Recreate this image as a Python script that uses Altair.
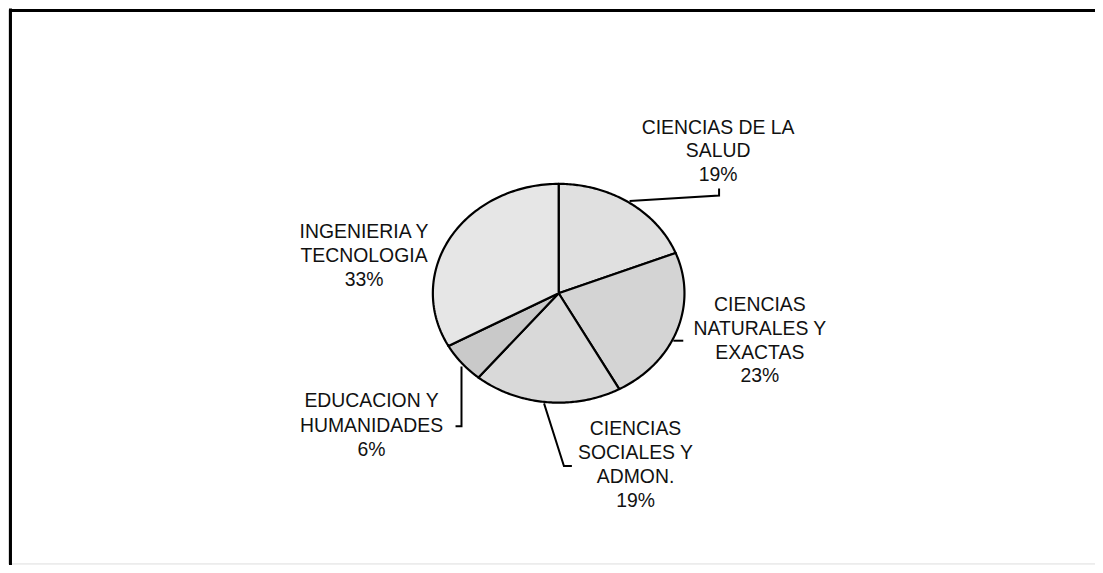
import altair as alt
import pandas as pd

# ---- data ----
categories = [
    "CIENCIAS DE LA SALUD",
    "CIENCIAS NATURALES Y EXACTAS",
    "CIENCIAS SOCIALES Y ADMON.",
    "EDUCACION Y HUMANIDADES",
    "INGENIERIA Y TECNOLOGIA",
]
values = [19, 23, 19, 6, 33]
label_lines = [
    ["CIENCIAS DE LA", "SALUD"],
    ["CIENCIAS", "NATURALES Y", "EXACTAS"],
    ["CIENCIAS", "SOCIALES Y", "ADMON."],
    ["EDUCACION Y", "HUMANIDADES"],
    ["INGENIERIA Y", "TECNOLOGIA"],
]

# ---- layout / style (view pixels; page = view + 8) ----
W, H = 1093, 557
CX, CY = 553.7, 285.3      # pie centre
RX, RY = 126.5, 110.0      # elliptical pie radii
N = 90                      # points along each slice arc
fills = ["#e0e0e0", "#d4d4d4", "#d9d9d9", "#c9c9c9", "#e6e6e6"]
FONT = "Liberation Sans"
FS = 19.5

# label anchor: (centre x, first line centre y, line spacing) in page px
label_pos = [
    (722, 126, 23.5),
    (764, 304, 24),
    (639, 429, 24),
    (373.5, 401, 24.5),
    (366, 231, 24),
]
# leader polylines in page px
leaders = [
    [(633, 200.5), (723, 195), (723, 188)],
    [(677, 341), (687, 341)],
    [(547, 404), (567, 467), (575, 467)],
    [(464, 367), (464, 427), (458, 427)],
]

# ---- pie wedges (elliptical, via library transforms + scales) ----
pie_df = pd.DataFrame({"category": categories, "value": values, "idx": list(range(len(values)))})
pie = (
    alt.Chart(pie_df)
    .transform_window(cum="sum(value)", sort=[alt.SortField("idx")], frame=[None, 0])
    .transform_joinaggregate(total="sum(value)")
    .transform_calculate(
        start="(datum.cum - datum.value) / datum.total",
        end="datum.cum / datum.total",
        steps=f"sequence(0, {N + 2})",
    )
    .transform_flatten(["steps"], as_=["k"])
    .transform_calculate(
        frac=f"datum.start + (datum.end - datum.start) * clamp(datum.k - 1, 0, {N - 1}) / {N - 1}",
        is_c=f"datum.k == 0 || datum.k == {N + 1}",
    )
    .transform_calculate(
        px="datum.is_c ? 0 : sin(2 * PI * datum.frac)",
        py="datum.is_c ? 0 : cos(2 * PI * datum.frac)",
    )
    .mark_line(filled=True, stroke="black", strokeWidth=2.2, interpolate="linear", strokeJoin="round")
    .encode(
        x=alt.X("px:Q", scale=alt.Scale(domain=[-1, 1], range=[CX - RX, CX + RX], nice=False, zero=False), axis=None),
        y=alt.Y("py:Q", scale=alt.Scale(domain=[-1, 1], range=[CY + RY, CY - RY], nice=False, zero=False), axis=None),
        color=alt.Color("category:N", scale=alt.Scale(domain=categories, range=fills), legend=None),
        order=alt.Order("k:Q"),
        detail="category:N",
    )
)

# ---- labels ----
rows = []
for i, lines in enumerate(label_lines):
    x0, y0, dy = label_pos[i]
    for j, t in enumerate(lines + [f"{values[i]}%"]):
        rows.append({"t": t, "lx": x0 - 8, "ly": y0 - 8 + j * dy + 1})
lab_df = pd.DataFrame(rows)
labels = (
    alt.Chart(lab_df)
    .mark_text(font=FONT, fontSize=FS, color="#111111", align="center", baseline="middle")
    .encode(
        x=alt.X("lx:Q", scale=None, axis=None),
        y=alt.Y("ly:Q", scale=None, axis=None),
        text="t:N",
    )
)

# ---- leader lines ----
lrows = []
for i, pts in enumerate(leaders):
    for j, (x, y) in enumerate(pts):
        lrows.append({"seg": i, "o": j, "lx": x - 8, "ly": y - 8})
lead = (
    alt.Chart(pd.DataFrame(lrows))
    .mark_line(color="black", strokeWidth=2)
    .encode(
        x=alt.X("lx:Q", scale=None, axis=None),
        y=alt.Y("ly:Q", scale=None, axis=None),
        order="o:Q",
        detail="seg:N",
    )
)

# ---- outer frame (left and top edges only) ----
frame_l = alt.Chart(pd.DataFrame({"a": [0]})).mark_rule(color="black", strokeWidth=3).encode(
    x=alt.value(2.5), y=alt.value(-1), y2=alt.value(H + 2)
)
frame_t = alt.Chart(pd.DataFrame({"a": [0]})).mark_rule(color="black", strokeWidth=3).encode(
    x=alt.value(1), x2=alt.value(W + 2), y=alt.value(1)
)

chart = (
    alt.layer(pie, lead, labels, frame_l, frame_t)
    .resolve_scale(x="independent", y="independent")
    .properties(width=W, height=H, padding=0, autosize=alt.AutoSizeParams(type="none"))
    .configure_view(stroke=None, strokeWidth=0)
    .configure(background="white")
)

chart.save("out.html", embed_options={"renderer": "svg", "actions": False})
